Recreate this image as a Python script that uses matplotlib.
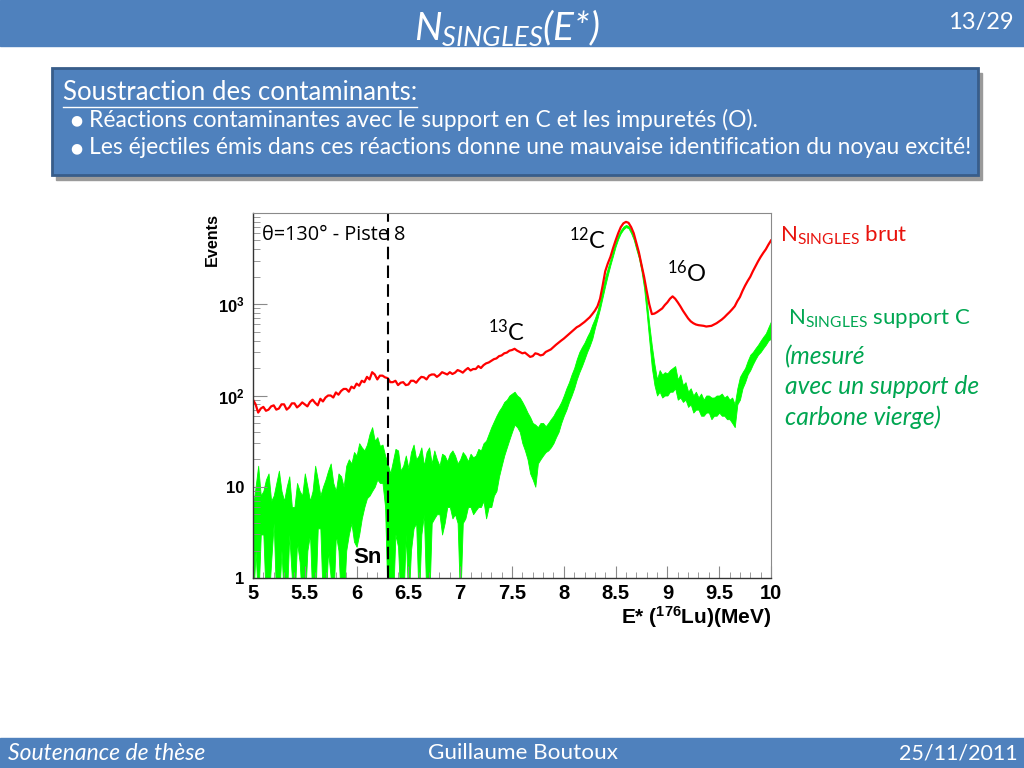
import numpy as np
import matplotlib.pyplot as plt
from matplotlib.patches import Rectangle
from matplotlib.ticker import FixedLocator, FixedFormatter, NullFormatter

plt.rcParams['mathtext.fontset'] = 'custom'
plt.rcParams['mathtext.rm'] = 'Lato'
plt.rcParams['mathtext.it'] = 'Lato:italic'
plt.rcParams['mathtext.bf'] = 'Liberation Sans:bold'

# ---------------- data (bins of 0.025 MeV, 5 -> 10 MeV) ----------------
energy = np.round(np.linspace(5.0, 10.0, 201), 3)

# N_SINGLES brut (red)
brut = [90, 80, 65, 72, 75, 68, 70, 76, 78, 70,
        72, 80, 80, 70, 74, 82, 82, 74, 78, 84,
        80, 76, 85, 90, 83, 78, 92, 86, 95, 100,
        100, 95, 108, 102, 112, 118, 118, 110, 125, 120,
        135, 128, 145, 140, 160, 150, 180, 170, 150, 165,
        165, 158, 155, 140, 140, 145, 130, 138, 140, 130,
        132, 145, 145, 138, 150, 160, 158, 150, 165, 170,
        170, 160, 168, 180, 175, 170, 180, 172, 178, 190,
        185, 178, 190, 200, 188, 195, 195, 210, 200, 215,
        225, 230, 240, 250, 255, 270, 275, 290, 295, 310,
        315, 325, 310, 300, 290, 295, 280, 265, 270, 290,
        285, 275, 280, 300, 310, 320, 340, 360, 380, 400,
        420, 445, 470, 500, 530, 560, 580, 610, 640, 680,
        720, 780, 850, 950, 1150, 1600, 2300, 2800, 3300, 4100,
        5000, 6000, 7000, 7700, 8000, 7800, 7000, 6000, 4700, 3700,
        2700, 2000, 1400, 1000, 780, 790, 820, 860, 900, 980,
        1050, 1150, 1220, 1150, 1050, 950, 850, 770, 700, 650,
        620, 600, 590, 585, 580, 570, 575, 580, 600, 620,
        650, 680, 720, 770, 820, 880, 950, 1080, 1200, 1400,
        1600, 1800, 2000, 2300, 2600, 2950, 3300, 3650, 4000, 4500,
        5000]

# N_SINGLES support C (green), upper and lower edge of the noisy band
support_hi = [6, 10, 17, 8, 9, 12, 14, 7, 8, 11,
              15, 9, 7, 10, 13, 6, 6, 11, 9, 8,
              14, 10, 7, 9, 17, 12, 8, 10, 12, 15,
              18, 11, 9, 14, 13, 10, 17, 20, 18, 24,
              22, 30, 27, 25, 29, 38, 45, 32, 35, 28,
              29, 22, 18, 14, 19, 26, 25, 15, 17, 22,
              16, 24, 29, 20, 22, 27, 17, 24, 27, 18,
              25, 20, 17, 23, 22, 19, 23, 25, 22, 18,
              20, 24, 22, 19, 23, 21, 22, 26, 25, 30,
              32, 38, 45, 52, 60, 68, 75, 85, 90, 100,
              105, 110, 100, 95, 85, 75, 65, 58, 50, 48,
              45, 50, 50, 46, 50, 55, 60, 68, 75, 85,
              100, 120, 140, 170, 200, 250, 300, 340, 380, 440,
              500, 600, 700, 850, 1100, 1500, 2000, 2500, 3100, 3900,
              4800, 5700, 6500, 7100, 7400, 7200, 6500, 5600, 4500, 3600,
              2700, 1800, 1100, 600, 350, 220, 150, 190, 170, 180,
              175, 190, 200, 210, 150, 170, 130, 140, 110, 120,
              100, 110, 95, 105, 90, 100, 100, 95, 95, 100,
              100, 105, 95, 100, 90, 95, 80, 120, 160, 180,
              200, 240, 280, 300, 330, 360, 400, 440, 480, 560,
              650]
support_lo = [0.5, 2, 0.5, 3, 3, 0.5, 0.5, 1.5, 4, 0.5,
              0.5, 2, 0.5, 0.5, 3, 1, 0.5, 2.5, 1.5, 0.5,
              0.5, 2, 3, 0.5, 0.5, 3.5, 3.5, 0.5, 0.5, 2,
              1, 0.5, 3, 2, 0.5, 0.5, 2, 3, 4, 2.5,
              2.2, 3, 4.5, 6, 7.5, 8, 9, 10, 12, 11,
              11, 6, 0.5, 0.5, 0.5, 3, 2.2, 0.5, 0.5, 3,
              0.5, 2, 3.5, 4, 0.5, 3, 5, 0.5, 0.5, 4,
              4.5, 5, 5, 3, 4, 6, 6, 4.5, 5, 4,
              0.5, 4, 4.5, 6, 6, 5, 5.5, 6, 6, 7,
              4.5, 6, 6, 8, 9, 13, 17, 22, 27, 33,
              40, 48, 45, 40, 30, 25, 20, 14, 12, 10,
              18, 20, 22, 24, 25, 27, 30, 35, 40, 50,
              60, 70, 85, 100, 120, 150, 180, 210, 250, 300,
              350, 420, 550, 700, 900, 1200, 1600, 2100, 2700, 3400,
              4300, 5200, 6000, 6600, 7000, 6800, 6000, 5100, 4000, 3200,
              2300, 1500, 800, 400, 200, 130, 100, 110, 95, 100,
              100, 110, 110, 120, 90, 95, 85, 90, 75, 80,
              65, 70, 70, 60, 60, 65, 65, 55, 60, 60,
              65, 60, 60, 55, 55, 50, 45, 80, 90, 120,
              140, 170, 190, 220, 250, 280, 300, 330, 360, 400,
              420]

x_ticks = [5, 5.5, 6, 6.5, 7, 7.5, 8, 8.5, 9, 9.5, 10]
x_labels = ["5", "5.5", "6", "6.5", "7", "7.5", "8", "8.5", "9", "9.5", "10"]
y_ticks = [1, 10, 100, 1000]
y_labels = ["1", "10", r"$\mathbf{10^{2}}$", r"$\mathbf{10^{3}}$"]
sn_energy = 6.3

blue = "#4F81BD"
txt_green = "#00A651"


def px(x, y):
    return x / 1024, 1 - y / 768


fig = plt.figure(figsize=(10.24, 7.68), dpi=100)
fig.patch.set_facecolor("white")

# ---------------- slide decoration ----------------
fig.patches.append(Rectangle(px(0, 46), 1, 46 / 768, transform=fig.transFigure, color=blue, zorder=0))
fig.patches.append(Rectangle(px(0, 768), 1, 30 / 768, transform=fig.transFigure, color=blue, zorder=0))
fig.patches.append(Rectangle(px(56, 180), 926 / 1024, 107 / 768, transform=fig.transFigure,
                             color="#9a9a9a", zorder=0))
fig.patches.append(Rectangle(px(52, 175), 926 / 1024, 107 / 768, transform=fig.transFigure,
                             facecolor=blue, edgecolor="#385D8A", lw=2, zorder=1))

fig.text(*px(507, 40), r"$\mathit{N}_{\mathit{SINGLES}}$(E*)", color="white", fontsize=28,
         family="Lato", style="italic", ha="center", va="baseline")
fig.text(*px(1014, 22), "13/29", color="white", fontsize=17, family="Lato", ha="right", va="center")

head = fig.text(*px(63, 100), "Soustraction des contaminants:", color="white", fontsize=18.5,
                family="Lato", ha="left", va="baseline")
fig.text(*px(70, 120), "●", color="white", fontsize=10, family="DejaVu Sans", ha="left", va="center")
fig.text(*px(89, 120), "Réactions contaminantes avec le support en C et les impuretés (O).",
         color="white", fontsize=16.4, family="Lato", ha="left", va="center")
fig.text(*px(70, 148), "●", color="white", fontsize=10, family="DejaVu Sans", ha="left", va="center")
fig.text(*px(89, 148), "Les éjectiles émis dans ces réactions donne une mauvaise identification du noyau excité!",
         color="white", fontsize=16.4, family="Lato", ha="left", va="center")

fig.text(*px(8, 753), "Soutenance de thèse", color="white", fontsize=16.5, family="Lato",
         style="italic", ha="left", va="center")
fig.text(*px(523, 753), "Guillaume Boutoux", color="white", fontsize=16.2, family="Lato",
         ha="center", va="center")
fig.text(*px(1018, 753), "25/11/2011", color="white", fontsize=15.5, family="Lato",
         ha="right", va="center")

fig.text(*px(780, 235), r"N$_{\mathrm{SINGLES}}$ brut", color="#E8120C", fontsize=16,
         family="Lato", ha="left", va="center")
fig.text(*px(788, 318), r"N$_{\mathrm{SINGLES}}$ support C", color=txt_green, fontsize=16,
         family="Lato", ha="left", va="center")
for y, line in zip([357, 387, 417], ["(mesuré", "avec un support de", "carbone vierge)"]):
    fig.text(*px(785, y), line, color=txt_green, fontsize=17.7, family="Lato", style="italic",
             ha="left", va="center")

# ---------------- spectrum ----------------
ax = fig.add_axes([253 / 1024, 1 - 578 / 768, 518 / 1024, 365 / 768])

e = np.array(energy)
ax.fill_between(e, support_lo, support_hi, color="#00FF00", lw=0.6, edgecolor="#00FF00")
ax.plot(e, brut, color="#FF0000", lw=1.6)

ax.axvline(sn_energy, color="black", ls=(0, (6, 3)), lw=1.5)

ax.set_yscale("log")
ax.set_xlim(5, 10)
ax.set_ylim(1, 1e4)

ax.xaxis.set_major_locator(FixedLocator(x_ticks))
ax.xaxis.set_major_formatter(FixedFormatter(x_labels))
ax.xaxis.set_minor_locator(FixedLocator(np.round(np.linspace(5, 10, 51), 2)))
ax.yaxis.set_major_locator(FixedLocator(y_ticks))
ax.yaxis.set_major_formatter(FixedFormatter(y_labels))
minor_y = [m * 10 ** d for d in range(4) for m in range(2, 10)]
ax.yaxis.set_minor_locator(FixedLocator(minor_y))
ax.yaxis.set_minor_formatter(NullFormatter())

ax.tick_params(axis="both", which="both", direction="in", color="#8a8a8a", top=False, right=False)
ax.tick_params(axis="x", which="major", length=9, labelsize=14.5, pad=4)
ax.tick_params(axis="x", which="minor", length=4.5)
ax.tick_params(axis="y", which="major", length=10, labelsize=12, pad=6)
ax.tick_params(axis="y", which="minor", length=5)
for lab in ax.get_xticklabels() + ax.get_yticklabels():
    lab.set_family("Liberation Sans")
    lab.set_fontweight("bold")

for side in ["top", "right"]:
    ax.spines[side].set_color("#8a8a8a")
    ax.spines[side].set_linewidth(0.8)
for side in ["left", "bottom"]:
    ax.spines[side].set_color("#333333")
    ax.spines[side].set_linewidth(1.0)

ax.text(5.09, 5700, "θ=130° - Piste 8", fontsize=14.3, family="Open Sans", ha="left", va="center")
ax.text(8.23, 10 ** 3.71, r"$^{\mathrm{12}}$C", fontsize=17, family="Lato", ha="center", va="center")
ax.text(9.19, 10 ** 3.35, r"$^{\mathrm{16}}$O", fontsize=17, family="Lato", ha="center", va="center")
ax.text(7.45, 10 ** 2.70, r"$^{\mathrm{13}}$C", fontsize=17, family="Lato", ha="center", va="center")
ax.text(6.11, 10 ** 0.23, "Sn", fontsize=16, family="Liberation Sans", fontweight="bold",
        ha="center", va="center")

fig.text(212 / 1024, 1 - 213 / 768, "Events", rotation=90, fontsize=11.6, family="Liberation Sans",
         fontweight="bold", ha="center", va="top")
fig.text(771 / 1024, 1 - 604 / 768, r"E* ($\mathbf{^{176}}$Lu)(MeV)", fontsize=15,
         family="Liberation Sans", fontweight="bold", ha="right", va="top")

# underline of the box heading
fig.canvas.draw()
bb = head.get_window_extent().transformed(fig.transFigure.inverted())
fig.add_artist(plt.Line2D([bb.x0, bb.x1], [bb.y0 - 0.002, bb.y0 - 0.002], transform=fig.transFigure,
                          color="white", lw=1))

plt.savefig("out.png", dpi=100)
